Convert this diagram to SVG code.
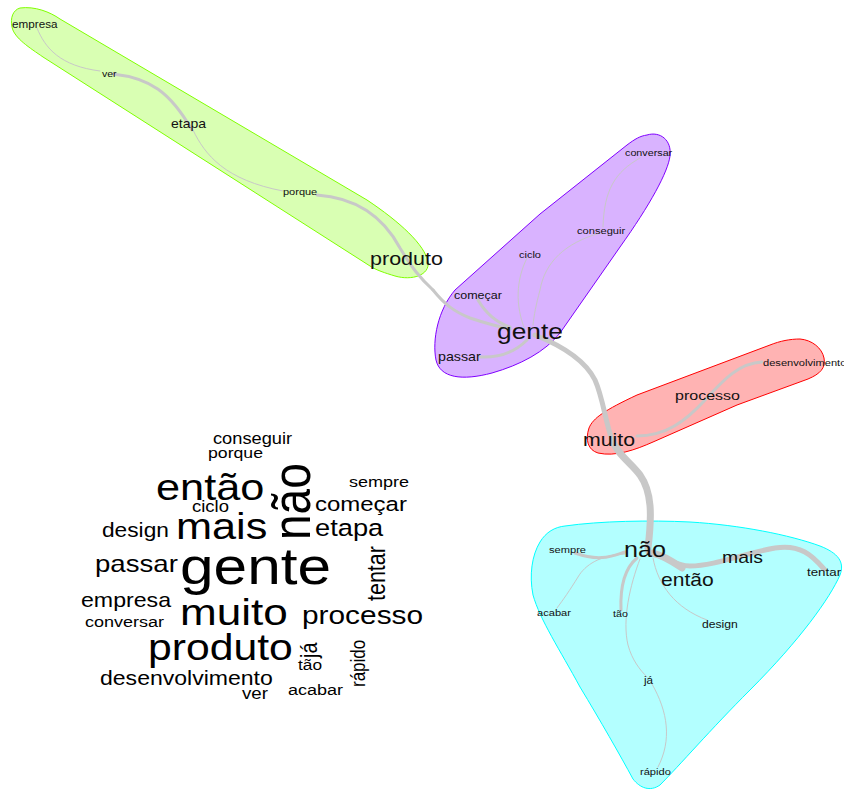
<svg xmlns="http://www.w3.org/2000/svg" width="844" height="792" viewBox="0 0 844 792">
<style>
  .hull { stroke-width: 1; stroke-linejoin: round; }
  .g-green { fill: #d9ffb3; stroke: #80ff00; }
  .g-purple { fill: #d9b3ff; stroke: #8000ff; }
  .g-red { fill: #ffb3b3; stroke: #ff0000; }
  .g-cyan { fill: #b3ffff; stroke: #00ffff; }
  .e { fill: none; stroke: #c8c8c8; stroke-linecap: round; }
  .w1 { stroke-width: 1; }
  .w3 { stroke-width: 3; }
  .w5 { stroke-width: 5; }
  .w7 { stroke-width: 7; }
  text { font-family: "Liberation Sans", Arial, sans-serif; fill: #000; }
  .lbl { fill: #111; }
</style>
<rect width="844" height="792" fill="#ffffff"/>

<!-- community hulls -->
<g id="hulls">
  <path class="hull g-green" d="M20,8 C35,6 50,12 60,19 L367,200 C400,222 425,245 428,262 C430,275 412,281 395,276 C385,273 376,270 370,266 L43,57 C30,48 14,38 12,27 C10,18 13,10 20,8 Z"/>
  <path class="hull g-purple" d="M647,135 C660,131 672,140 670,156 C668,172 650,205 620,247 L560,333 C545,352 520,365 492,373 C462,381 440,378 436,360 C432,340 438,310 455,290 L540,214 L627,145 C635,139 640,136 647,135 Z"/>
  <path class="hull g-red" d="M800,339 C812,340 822,348 824,358 C826,368 820,374 808,379 L737,405 L653,442 C635,450 615,457 598,453 C588,450 585,440 589,428 C593,418 605,410 637,395 L770,345 C780,341 790,339 800,339 Z"/>
  <path class="hull g-cyan" d="M565,526 C600,521 650,520 690,522 C740,525 790,535 820,546 C838,553 845,562 840,575 C830,598 800,640 750,690 C710,730 680,765 660,785 C650,792 640,788 633,779 C620,755 600,720 580,687 C560,650 540,620 533,595 C529,575 532,555 540,542 C546,532 555,527 565,526 Z"/>
</g>

<!-- co-occurrence edges -->
<g id="edges">
  <path class="e w1" d="M37,28 C45,48 60,66 100,71"/>
  <path class="e w3" d="M113,74 C150,78 170,92 192,130"/>
  <path class="e w1" d="M193,130 C205,155 225,180 283,191"/>
  <path class="e w3" d="M317,195 C360,198 385,220 400,248 C412,268 420,278 433,290"/>
  <path class="e w3" d="M433,290 C445,305 455,312 470,318 C485,323 495,326 510,329"/>
  <path class="e w1" d="M640,158 C615,172 604,190 603,227"/>
  <path class="e w1" d="M600,233 C565,243 545,262 540,290 C536,305 534,315 533,325"/>
  <path class="e w1" d="M527,258 C516,280 515,305 525,330"/>
  <path class="e w3" d="M478,300 C485,312 495,322 510,327"/>
  <path class="e w3" d="M480,357 C500,358 515,352 527,340"/>
  <path class="e w5" d="M535,335 C560,345 585,360 595,380 C603,398 605,420 612,440"/>
  <path class="e w7" d="M612,440 C618,455 630,462 640,475 C652,492 652,515 648,548"/>
  <path class="e w3" d="M762,362 C740,363 725,378 705,400 C685,422 665,436 637,436"/>
  <path class="e w5" d="M648,552 C665,556 675,566 690,566 C715,566 745,553 775,548 C800,544 812,555 824,569"/>
  <path class="e w7" d="M652,553 C662,555 672,561 682,568"/>
  <path class="e w3" d="M625,552 C612,556 600,562 575,553"/>
  <path class="e w1" d="M625,554 C600,555 585,565 578,577 C570,590 563,600 557,608"/>
  <path class="e w3" d="M637,558 C625,568 620,585 621,610"/>
  <path class="e w1" d="M640,559 C630,585 622,620 628,645 C632,660 640,670 647,677"/>
  <path class="e w1" d="M652,684 C668,712 672,740 658,767"/>
  <path class="e w1" d="M653,558 C658,585 675,608 707,620"/>
</g>

<!-- term nodes -->
<g id="node-empresa"><text class="lbl" font-size="10" transform="translate(12,28) scale(1.17,1)">empresa</text></g>
<g id="node-ver"><text class="lbl" font-size="9" transform="translate(102,77) scale(1.17,1)">ver</text></g>
<g id="node-etapa"><text class="lbl" font-size="12" transform="translate(171,128) scale(1.17,1)">etapa</text></g>
<g id="node-porque"><text class="lbl" font-size="9.4" transform="translate(283,195) scale(1.17,1)">porque</text></g>
<g id="node-produto"><text class="lbl" font-size="18.4" transform="translate(370,265) scale(1.17,1)">produto</text></g>
<g id="node-conversar"><text class="lbl" font-size="9.2" transform="translate(625,156) scale(1.17,1)">conversar</text></g>
<g id="node-conseguir"><text class="lbl" font-size="9.5" transform="translate(577,234) scale(1.17,1)">conseguir</text></g>
<g id="node-ciclo"><text class="lbl" font-size="9.4" transform="translate(519,258) scale(1.17,1)">ciclo</text></g>
<g id="node-comecar"><text class="lbl" font-size="10.7" transform="translate(454,299) scale(1.17,1)">começar</text></g>
<g id="node-gente"><text class="lbl" font-size="22.5" transform="translate(497,339) scale(1.17,1)">gente</text></g>
<g id="node-passar"><text class="lbl" font-size="12.2" transform="translate(438,361) scale(1.17,1)">passar</text></g>
<g id="node-desenvolvimento"><text class="lbl" font-size="9.5" transform="translate(763,366) scale(1.17,1)">desenvolvimento</text></g>
<g id="node-processo"><text class="lbl" font-size="13.7" transform="translate(675,400) scale(1.17,1)">processo</text></g>
<g id="node-muito"><text class="lbl" font-size="18.2" transform="translate(583,446) scale(1.17,1)">muito</text></g>
<g id="node-nao"><text class="lbl" font-size="21.5" transform="translate(624,557) scale(1.17,1)">não</text></g>
<g id="node-mais"><text class="lbl" font-size="16.6" transform="translate(722,563) scale(1.17,1)">mais</text></g>
<g id="node-entao"><text class="lbl" font-size="18" transform="translate(661,586) scale(1.17,1)">então</text></g>
<g id="node-tentar"><text class="lbl" font-size="11.4" transform="translate(807,576) scale(1.17,1)">tentar</text></g>
<g id="node-sempre"><text class="lbl" font-size="9.5" transform="translate(549,553) scale(1.17,1)">sempre</text></g>
<g id="node-acabar"><text class="lbl" font-size="9.5" transform="translate(537,616) scale(1.17,1)">acabar</text></g>
<g id="node-tao"><text class="lbl" font-size="9.2" transform="translate(613,617) scale(1.17,1)">tão</text></g>
<g id="node-design"><text class="lbl" font-size="10.4" transform="translate(702,628) scale(1.17,1)">design</text></g>
<g id="node-ja"><text class="lbl" font-size="10" transform="translate(644,684) scale(1.17,1)">já</text></g>
<g id="node-rapido"><text class="lbl" font-size="9.5" transform="translate(640,775) scale(1.17,1)">rápido</text></g>

<!-- word cloud -->
<g id="wordcloud">
  <text font-size="15.6" transform="translate(213,444) scale(1.17,1)">conseguir</text>
  <text font-size="15.1" transform="translate(208,458) scale(1.17,1)">porque</text>
  <text font-size="37" transform="translate(156,500) scale(1.17,1)">então</text>
  <text font-size="46" transform="translate(310,540) scale(1.17,1) rotate(-90)">não</text>
  <text font-size="15.4" transform="translate(349,487) scale(1.17,1)">sempre</text>
  <text font-size="20.5" transform="translate(315,511) scale(1.17,1)">começar</text>
  <text font-size="23.3" transform="translate(315,536) scale(1.17,1)">etapa</text>
  <text font-size="15.8" transform="translate(192,512) scale(1.17,1)">ciclo</text>
  <text font-size="19.4" transform="translate(102,537) scale(1.17,1)">design</text>
  <text font-size="37" transform="translate(176,539) scale(1.17,1)">mais</text>
  <text font-size="23.6" transform="translate(95,572) scale(1.17,1)">passar</text>
  <text font-size="51.6" transform="translate(180,584) scale(1.17,1)">gente</text>
  <text font-size="21.5" transform="translate(385,601) scale(1.17,1) rotate(-90)">tentar</text>
  <text font-size="19.8" transform="translate(81,607) scale(1.17,1)">empresa</text>
  <text font-size="15.4" transform="translate(85,627) scale(1.17,1)">conversar</text>
  <text font-size="37.7" transform="translate(180,625) scale(1.17,1)">muito</text>
  <text font-size="25.5" transform="translate(302,624) scale(1.17,1)">processo</text>
  <text font-size="36.5" transform="translate(148,660) scale(1.17,1)">produto</text>
  <text font-size="20" transform="translate(317,658) scale(1.17,1) rotate(-90)">já</text>
  <text font-size="14.8" transform="translate(298,670) scale(1.17,1)">tão</text>
  <text font-size="17" transform="translate(365,687) scale(1.17,1) rotate(-90)">rápido</text>
  <text font-size="19.7" transform="translate(100,685) scale(1.17,1)">desenvolvimento</text>
  <text font-size="16" transform="translate(242,699) scale(1.17,1)">ver</text>
  <text font-size="15.4" transform="translate(288,695) scale(1.17,1)">acabar</text>
</g>
</svg>
